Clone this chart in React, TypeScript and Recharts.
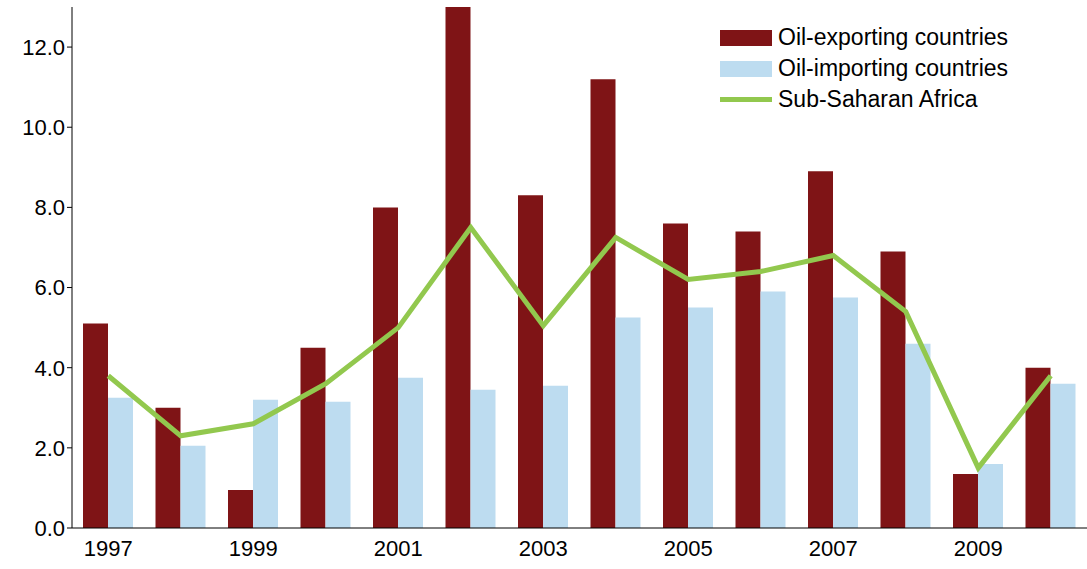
import React from 'react'
import { ComposedChart, Bar, Line, XAxis, YAxis } from 'recharts'

const years = ['1997', '1998', '1999', '2000', '2001', '2002', '2003', '2004', '2005', '2006', '2007', '2008', '2009', '2010']
const oilExporting = [5.1, 3.0, 0.95, 4.5, 8.0, 13.1, 8.3, 11.2, 7.6, 7.4, 8.9, 6.9, 1.35, 4.0]
const oilImporting = [3.25, 2.05, 3.2, 3.15, 3.75, 3.45, 3.55, 5.25, 5.5, 5.9, 5.75, 4.6, 1.6, 3.6]
const subSaharan = [3.8, 2.3, 2.6, 3.6, 5.0, 7.5, 5.05, 7.25, 6.2, 6.4, 6.8, 5.4, 1.5, 3.8]
const yTicks = [0, 2, 4, 6, 8, 10, 12]
const legendItems = [
  ['Oil-exporting countries', '#7f1416', 'bar'],
  ['Oil-importing countries', '#bddcf0', 'bar'],
  ['Sub-Saharan Africa', '#92c84e', 'line'],
]

const data = years.map((year, i) => ({
  year,
  exp: oilExporting[i],
  imp: oilImporting[i],
  ssa: subSaharan[i],
}))

const font = 'Liberation Sans, Arial, sans-serif'

export default function App() {
  return (
    <div style={{ position: 'absolute', left: 0, top: 0, width: 1087, height: 569, background: '#fff', fontFamily: font }}>
      <ComposedChart width={1087} height={569} data={data} margin={{ top: 7, right: 0, bottom: 0, left: 0 }}
        barGap={0} barSize={25}>
        <XAxis dataKey="year" interval={1} tickLine={false} axisLine={{ stroke: '#000' }} height={41}
          tick={{ fill: '#000', fontSize: 22, fontFamily: font }} tickMargin={6} />
        <YAxis domain={[0, 13]} ticks={yTicks} allowDataOverflow width={72} tickFormatter={(v: number) => v.toFixed(1)}
          tickLine={{ stroke: '#000' }} tickSize={5} axisLine={{ stroke: '#000' }}
          tick={{ fill: '#000', fontSize: 22, fontFamily: font }} />
        <Bar dataKey="exp" name="Oil-exporting countries" fill="#7f1416" isAnimationActive={false} />
        <Bar dataKey="imp" name="Oil-importing countries" fill="#bddcf0" isAnimationActive={false} />
        <Line dataKey="ssa" name="Sub-Saharan Africa" stroke="#92c84e" strokeWidth={5} dot={false} type="linear" isAnimationActive={false} />
      </ComposedChart>
      <div style={{ position: 'absolute', left: 720, top: 22, fontSize: 23, lineHeight: '31px', color: '#000' }}>
        {legendItems.map(([label, color, kind]) => (
          <div key={label} style={{ display: 'flex', alignItems: 'center' }}>
            <span style={{ display: 'inline-block', width: 52, height: kind === 'bar' ? 16 : 5, background: color, marginRight: 6 }} />
            {label}
          </div>
        ))}
      </div>
    </div>
  )
}
